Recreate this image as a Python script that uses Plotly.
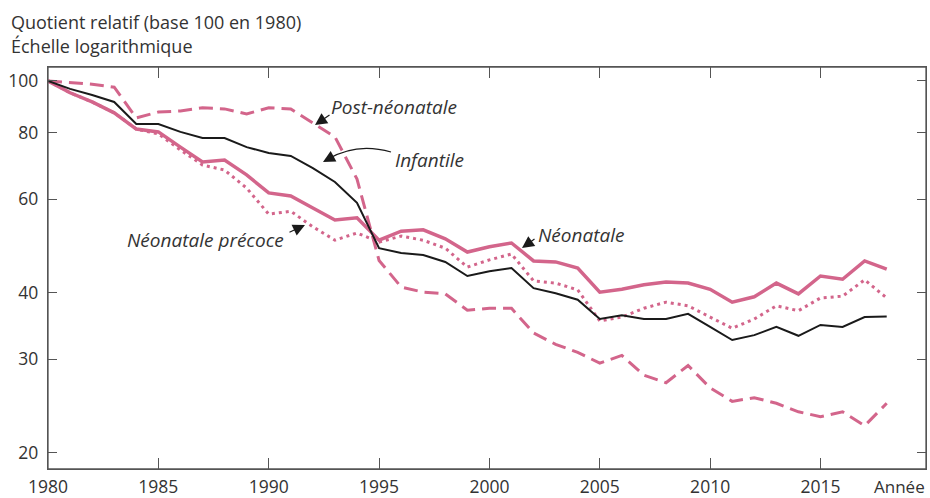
import numpy as np
import plotly.graph_objects as go

# Years 1980-2018
years = list(range(1980, 2019))

# Relative rates (base 100 in 1980)
infantile = [100, 96.6, 94.1, 91.3, 83.0, 83.0, 80.2, 78.1, 78.1, 75.1,
             73.2, 72.3, 68.6, 64.6, 59.0, 48.5, 47.5, 47.1, 45.7, 43.0,
             43.9, 44.5, 40.8, 39.9, 38.8, 35.7, 36.3, 35.7, 35.7, 36.5,
             34.5, 32.6, 33.3, 34.5, 33.2, 34.8, 34.5, 36.0, 36.1]
neonatale = [100, 95.0, 91.3, 87.1, 81.2, 80.2, 75.1, 70.4, 71.0, 66.6,
             61.6, 60.8, 57.7, 54.8, 55.3, 50.2, 52.2, 52.5, 50.5, 47.7,
             48.8, 49.6, 45.9, 45.7, 44.5, 40.1, 40.6, 41.4, 41.9, 41.7,
             40.6, 38.4, 39.3, 41.7, 39.8, 43.0, 42.4, 45.9, 44.3]
neonatale_precoce = [100, 95.0, 91.3, 87.1, 81.2, 79.5, 74.2, 69.5, 68.0, 62.9,
                     56.2, 56.9, 53.2, 50.2, 51.8, 49.8, 51.1, 50.2, 48.5, 44.7,
                     46.1, 47.3, 42.1, 41.7, 40.5, 35.4, 36.0, 37.4, 38.4, 37.8,
                     36.0, 34.3, 35.7, 37.8, 37.0, 39.1, 39.4, 42.3, 39.1]
post_neonatale = [100, 99.3, 98.6, 97.3, 85.2, 87.4, 87.8, 89.0, 88.6, 86.7,
                  89.0, 88.6, 83.4, 78.5, 65.4, 46.0, 41.0, 40.1, 39.8, 37.1,
                  37.4, 37.4, 33.6, 32.0, 30.9, 29.5, 30.5, 28.0, 27.1, 29.2,
                  26.5, 25.0, 25.4, 24.8, 23.9, 23.4, 23.9, 22.5, 24.8]

x_ticks = [1980, 1985, 1990, 1995, 2000, 2005, 2010, 2015]
y_ticks = [20, 30, 40, 60, 80, 100]

PINK = "#d3658b"
INK = "#333333"
AXIS = "#555555"
FONT = "Open Sans"

W, H = 930, 498
L, R, T, B = 48, 4, 67, 29
PW, PH = W - L - R, H - T - B


def px(x):
    return (x - L) / PW


def py(y):
    return (H - B - y) / PH


fig = go.Figure()
fig.add_trace(go.Scatter(x=years, y=post_neonatale, mode="lines", name="Post-néonatale",
                         line=dict(color=PINK, width=3, dash="14px,7px")))
fig.add_trace(go.Scatter(x=years, y=neonatale_precoce, mode="lines", name="Néonatale précoce",
                         line=dict(color=PINK, width=3, dash="3px,4px")))
fig.add_trace(go.Scatter(x=years, y=neonatale, mode="lines", name="Néonatale",
                         line=dict(color=PINK, width=3.5)))
fig.add_trace(go.Scatter(x=years, y=infantile, mode="lines", name="Infantile",
                         line=dict(color="#1a1a1a", width=2)))

annotations = []
label_font = dict(family=FONT, size=19, color=INK, style="italic")
head_font = dict(family=FONT, size=18, color=INK)

# Header lines
annotations.append(dict(text="Quotient relatif (base 100 en 1980)", xref="paper", yref="paper",
                        x=px(9), y=py(22), xanchor="left", yanchor="middle", showarrow=False,
                        font=head_font))
annotations.append(dict(text="Échelle logarithmique", xref="paper", yref="paper",
                        x=px(9), y=py(46), xanchor="left", yanchor="middle", showarrow=False,
                        font=head_font))
annotations.append(dict(text="Année", xref="paper", yref="paper",
                        x=px(927), y=py(486), xanchor="right", yanchor="middle", showarrow=False,
                        font=dict(family=FONT, size=17, color=INK)))

# Series labels
annotations.append(dict(text="Post-néonatale", xref="paper", yref="paper", x=px(329), y=py(107),
                        xanchor="left", yanchor="middle", showarrow=False, font=label_font))
annotations.append(dict(text="Infantile", xref="paper", yref="paper", x=px(393), y=py(160),
                        xanchor="left", yanchor="middle", showarrow=False, font=label_font))
annotations.append(dict(text="Néonatale précoce", xref="paper", yref="paper", x=px(286), y=py(240),
                        xanchor="right", yanchor="middle", showarrow=False, font=label_font))
annotations.append(dict(text="Néonatale", xref="paper", yref="paper", x=px(536), y=py(235),
                        xanchor="left", yanchor="middle", showarrow=False, font=label_font))

# Arrow heads pointing at the curves (tip, tail in pixels)
arrows = [((315, 125), (331, 114)),
          ((323, 162), (334, 156)),
          ((305, 225), (288, 233)),
          ((522, 248), (536, 238))]
for (hx, hy), (tx, ty) in arrows:
    annotations.append(dict(text="", xref="paper", yref="paper", x=px(hx), y=py(hy),
                            ax=tx - hx, ay=ty - hy, showarrow=True, arrowhead=2,
                            arrowsize=2.0, arrowwidth=1.2, arrowcolor="#1a1a1a",
                            standoff=0))

# Curved leader line for the "Infantile" label
p0, c, p2 = (391, 152), (357, 142), (328, 159)
path = "M {} {} Q {} {} {} {}".format(px(p0[0]), py(p0[1]), px(c[0]), py(c[1]), px(p2[0]), py(p2[1]))
shapes = [
    dict(type="path", xref="paper", yref="paper", path=path,
         line=dict(color="#1a1a1a", width=1.2)),
    # Frame around the plotting area
    dict(type="rect", xref="paper", yref="paper", x0=0, y0=0, x1=1, y1=1,
         line=dict(color=AXIS, width=1.3), layer="above"),
]

fig.update_layout(
    width=W, height=H,
    margin=dict(l=L, r=R, t=T, b=B, autoexpand=False),
    paper_bgcolor="white", plot_bgcolor="white",
    showlegend=False,
    font=dict(family=FONT, size=17.5, color=INK),
    annotations=annotations,
    shapes=shapes,
)
fig.update_xaxes(
    range=[1980, 2019.78], tickvals=x_ticks, ticktext=[str(v) for v in x_ticks],
    ticks="inside", ticklen=11, tickwidth=1, tickcolor=AXIS,
    showline=True, linecolor=AXIS, linewidth=1.3, mirror="ticks",
    showgrid=False, zeroline=False, ticklabelstandoff=2, automargin=False,
    tickfont=dict(family=FONT, size=17.5, color=INK),
)
fig.update_yaxes(
    type="log", range=[np.log10(18.66), np.log10(106.2)],
    tickvals=y_ticks, ticktext=[str(v) for v in y_ticks],
    ticks="inside", ticklen=9, tickwidth=1, tickcolor=AXIS,
    showline=True, linecolor=AXIS, linewidth=1.3, mirror="ticks",
    showgrid=False, zeroline=False, ticklabelstandoff=5, automargin=False,
    tickfont=dict(family=FONT, size=17.5, color=INK),
)

fig.write_html("out.html")
